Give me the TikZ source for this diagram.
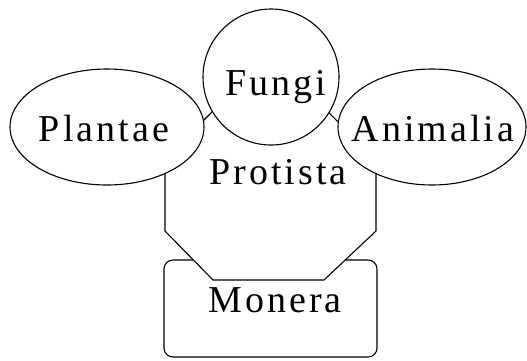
\documentclass[tikz,border=0pt]{standalone}
\usepackage{fontspec}
\setmainfont{Liberation Serif}[LetterSpace=8]
\begin{document}
\begin{tikzpicture}[x=1pt,y=-1pt,
  outline/.style={line width=1.1pt, draw=black, line join=round},
  label/.style={font=\fontsize{38}{42}\selectfont, inner sep=0pt, anchor=base}]
\useasboundingbox (0,0) rectangle (527,360);

% Monera: rounded box at the bottom
\draw[outline, rounded corners=9pt, fill=white] (164,260) rectangle (377,357);

% Protista: octagon laid over the box
\draw[outline, fill=white]
  (165,159) -- (214,110) -- (326,110) -- (376,159) --
  (376,231) -- (324,280) -- (213,280) -- (165,231) -- cycle;

% Plantae, Fungi, Animalia: white fills, then outlines on top
\fill[white] (107,127) ellipse [x radius=97, y radius=58];
\fill[white] (432,127) ellipse [x radius=94, y radius=58];
\fill[white] (271,77) circle [radius=68];
\draw[outline] (107,127) ellipse [x radius=97, y radius=58];
\draw[outline] (432,127) ellipse [x radius=94, y radius=58];
\draw[outline] (271,77) circle [radius=68];

\node[label] (plantae)  at (104,141) {Plantae};
\node[label] (fungi)    at (276,95)  {Fungi};
\node[label] (animalia) at (433,141) {Animalia};
\node[label] (protista) at (278,184) {Protista};
\node[label] (monera)   at (275,312) {Monera};
\end{tikzpicture}
\end{document}
